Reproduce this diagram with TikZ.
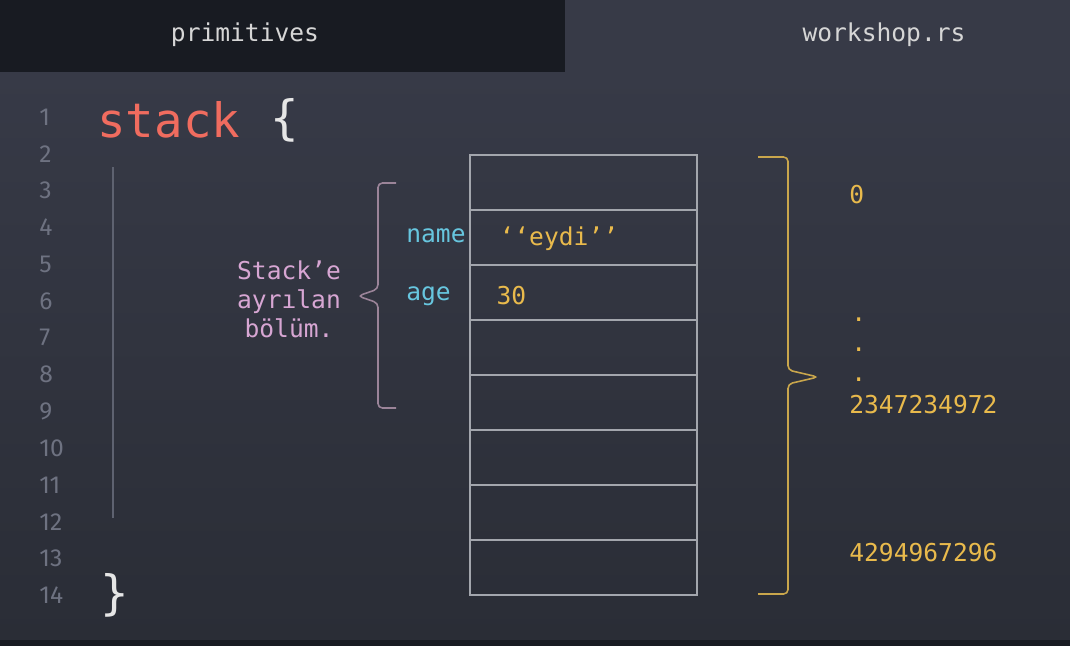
\documentclass[tikz,border=0pt]{standalone}
\usepackage{fontspec}
\setmainfont{Fira Sans}
\setmonofont{DejaVu Sans Mono}
\usetikzlibrary{positioning}
\definecolor{bgtop}{HTML}{373A47}
\definecolor{bgbot}{HTML}{2A2D36}
\definecolor{tabdark}{HTML}{181B22}
\definecolor{headtext}{HTML}{D6D6D6}
\definecolor{linenum}{HTML}{6E7281}
\definecolor{guide}{HTML}{5E6270}
\definecolor{kwred}{HTML}{F06C5F}
\definecolor{bracewhite}{HTML}{E6E6E6}
\definecolor{fieldcyan}{HTML}{67C6DF}
\definecolor{valyellow}{HTML}{E9BA4C}
\definecolor{notepink}{HTML}{D7A6D3}
\definecolor{bracepurple}{HTML}{9B8499}
\definecolor{bracegold}{HTML}{C9A64C}
\definecolor{cellline}{HTML}{A3A6AD}
\tikzset{
    cell/.style={draw=cellline,line width=0.85pt,minimum width=4.54cm,minimum height=1.1cm,inner sep=0pt},
    headlabel/.style={text=headtext,font=\fontsize{14}{16}\selectfont\ttfamily},
    lineno/.style={text=linenum,anchor=west,inner sep=0pt,font=\fontsize{14}{16}\selectfont},
    field/.style={text=fieldcyan,anchor=west,inner sep=0pt,font=\fontsize{14}{16}\selectfont\ttfamily},
    value/.style={text=valyellow,inner sep=0pt,font=\fontsize{14}{16}\selectfont\ttfamily},
    addr/.style={value,anchor=west},
    bracepath/.style={line width=0.9pt,rounded corners=2.5pt}
}
\begin{document}
\begin{tikzpicture}[x=0.02cm,y=-0.02cm]
    % background and tab bar
    \useasboundingbox (0,0) rectangle (1070,646);
    \fill[bgtop] (0,0) rectangle (1070,72);
    \shade[top color=bgtop,bottom color=bgbot] (0,72) rectangle (1070,640);
    \fill[tabdark] (0,0) rectangle (565,72);
    \fill[tabdark] (0,640) rectangle (1070,646);
    \node[headlabel] (tab1) at (245,35) {primitives};
    \node[headlabel] (tab2) at (884,35) {workshop.rs};

    % line numbers
    \foreach \n in {1,...,14}
        \node[lineno] (l\n) at ({39},{80.2+36.8*\n}) {\n};

    % code
    \node[text=kwred,anchor=west,inner sep=0pt,font=\fontsize{27}{30}\selectfont\ttfamily] (kw) at (97,120) {stack};
    \node[text=bracewhite,inner sep=0pt,font=\fontsize{27}{30}\selectfont\ttfamily,right=0.6cm of kw] (open) {\{};
    \node[text=bracewhite,inner sep=0pt,font=\fontsize{27}{30}\selectfont\ttfamily] (close) at (115,595) {\}};
    \draw[guide,line width=0.6pt] (113,167) -- (113,518);

    % stack cells
    \foreach \i in {1,...,8}
        \node[cell] (c\i) at ({583.5},{127.5+55*\i}) {};

    \node[field] (fname) at (406,236) {name};
    \node[field] (fage) at (406,296) {age};
    \node[value,right=0.6cm of c2.west,anchor=west,yshift=-0.03cm] (vname) {‘‘eydi’’};
    \node[value,right=0.54cm of c3.west,anchor=west,yshift=-0.06cm] (vage) {30};

    % left brace + note
    \draw[bracepurple,bracepath] (396,183) -- (378,183) -- (378,289) -- (358,296) -- (378,303) -- (378,408) -- (396,408);
    \node[text=notepink,align=center,inner sep=0pt,font=\fontsize{14}{16.5}\selectfont\ttfamily] (note) at (289,299) {Stack’e\\ayrılan\\bölüm.};

    % right brace + range
    \draw[bracegold,bracepath] (758,157) -- (788,157) -- (788,370) -- (818,377) -- (788,384) -- (788,594) -- (758,594);
    \node[addr] (lo) at (849,195) {0};
    \node[value,anchor=base west] (dot1) at (851,321) {.};
    \node[value,anchor=base west] (dot2) at (851,351) {.};
    \node[value,anchor=base west] (dot3) at (851,381) {.};
    \node[addr] (mid) at (849,405) {2347234972};
    \node[addr] (hi) at (849,553) {4294967296};
\end{tikzpicture}
\end{document}
